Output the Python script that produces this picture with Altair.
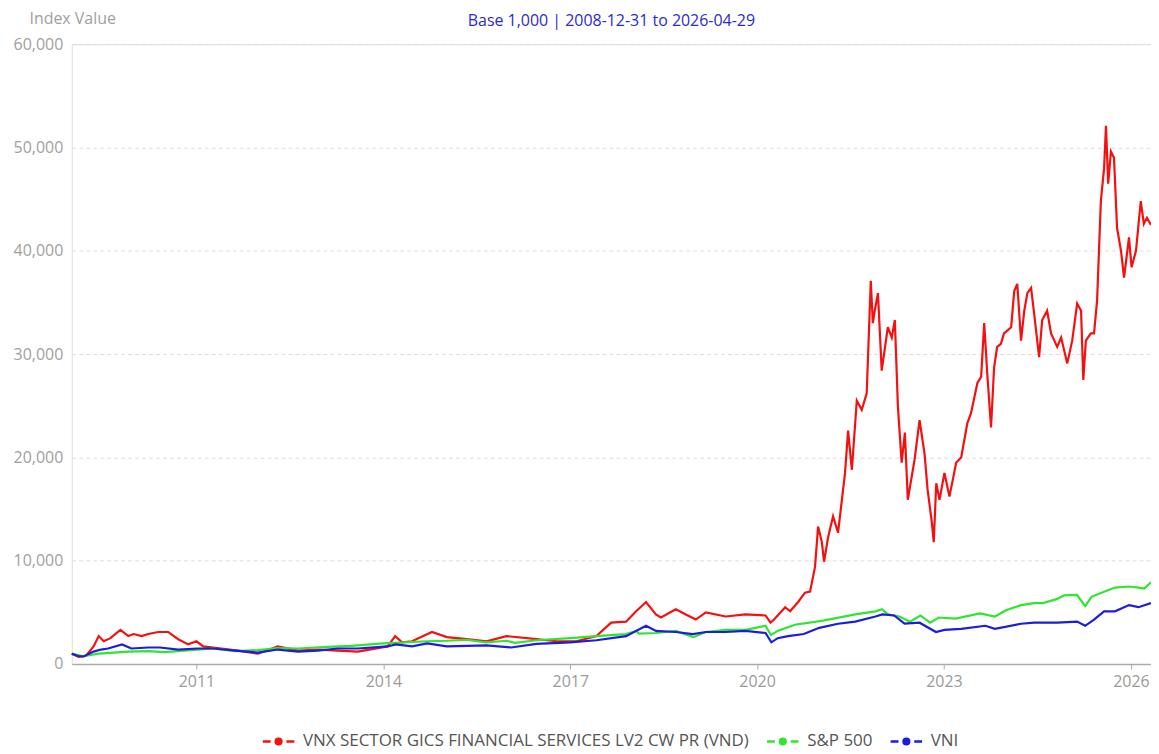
import altair as alt
import pandas as pd

# ---------------- data ----------------
series_names = ["VNX SECTOR GICS FINANCIAL SERVICES LV2 CW PR (VND)", "S&P 500", "VNI"]
series_colors = ["#f51010", "#2ee62e", "#1c1cdc"]

red_dates = [
    "2008-12-31", "2009-02-10", "2009-03-25", "2009-05-08", "2009-06-07", "2009-07-06", "2009-08-15", "2009-10-12", "2009-11-28", "2009-12-28",
    "2010-02-13", "2010-03-25", "2010-05-22", "2010-07-19", "2010-09-16", "2010-11-14", "2011-01-01", "2011-02-10", "2011-04-09", "2011-09-02",
    "2011-12-28", "2012-04-22", "2012-08-18", "2012-12-13", "2013-04-09", "2013-08-04", "2014-01-26", "2014-03-11", "2014-04-21", "2014-06-18",
    "2014-10-13", "2015-01-08", "2015-05-05", "2015-08-29", "2015-12-24", "2016-06-17", "2016-10-12", "2017-02-07", "2017-06-03", "2017-08-29",
    "2017-11-24", "2018-01-22", "2018-03-21", "2018-05-18", "2018-06-17", "2018-09-12", "2018-11-09", "2019-01-07", "2019-03-07", "2019-07-01",
    "2019-10-26", "2020-02-20", "2020-03-20", "2020-04-10", "2020-06-14", "2020-07-13", "2020-08-29", "2020-10-08", "2020-11-07", "2020-12-06",
    "2020-12-24", "2021-01-15", "2021-01-28", "2021-02-21", "2021-03-22", "2021-04-20", "2021-05-31", "2021-06-18", "2021-07-10", "2021-08-08",
    "2021-09-06", "2021-10-05", "2021-10-29", "2021-11-10", "2021-11-21", "2021-12-10", "2022-01-01", "2022-02-06", "2022-03-01", "2022-03-19",
    "2022-04-06", "2022-04-28", "2022-05-17", "2022-06-03", "2022-07-13", "2022-08-11", "2022-09-09", "2022-09-27", "2022-10-22", "2022-11-02",
    "2022-11-17", "2022-12-06", "2023-01-04", "2023-02-02", "2023-03-14", "2023-04-12", "2023-05-18", "2023-06-09", "2023-07-16", "2023-08-07",
    "2023-08-25", "2023-09-12", "2023-10-04", "2023-10-22", "2023-11-09", "2023-12-01", "2023-12-19", "2024-01-30", "2024-02-17", "2024-03-06",
    "2024-03-28", "2024-04-16", "2024-05-04", "2024-05-26", "2024-06-13", "2024-07-12", "2024-07-30", "2024-08-28", "2024-09-20", "2024-10-26",
    "2024-11-18", "2024-12-24", "2025-01-22", "2025-02-20", "2025-03-15", "2025-03-28", "2025-04-12", "2025-05-11", "2025-05-30", "2025-06-17",
    "2025-07-09", "2025-07-28", "2025-08-08", "2025-08-21", "2025-09-06", "2025-09-24", "2025-10-12", "2025-11-04", "2025-11-22", "2025-12-21",
    "2026-01-05", "2026-01-31", "2026-02-28", "2026-03-18", "2026-04-05", "2026-04-29",
]
red_values = [
    1000, 700, 800, 1700, 2700, 2200, 2500, 3300, 2700, 2900,
    2700, 2900, 3100, 3100, 2400, 1900, 2200, 1700, 1600, 1300,
    1000, 1700, 1300, 1400, 1300, 1200, 1700, 2700, 2100, 2200,
    3100, 2600, 2400, 2200, 2700, 2400, 2200, 2200, 2700, 4000,
    4100, 5100, 6000, 4800, 4500, 5300, 4800, 4300, 5000, 4600,
    4800, 4700, 4000, 4300, 5500, 5100, 6000, 6900, 7000, 9400,
    13300, 11800, 9900, 12300, 14300, 12700, 18500, 22600, 18800, 25500,
    24600, 26200, 37100, 33000, 34200, 35900, 28400, 32600, 31600, 33300,
    24900, 19500, 22400, 15900, 19800, 23600, 20400, 16900, 13700, 11800,
    17500, 15900, 18500, 16200, 19500, 20000, 23300, 24300, 27200, 27800,
    33000, 28100, 22900, 28700, 30700, 31000, 32000, 32600, 36100, 36800,
    31300, 34200, 35900, 36400, 33900, 29700, 33300, 34200, 32000, 30700,
    31600, 29100, 31300, 34900, 34200, 27500, 31300, 32000, 32000, 35200,
    44800, 48000, 52100, 46500, 49600, 49000, 42200, 40000, 37400, 41300,
    38400, 40000, 44800, 42600, 43200, 42500,
]

green_dates = [
    "2008-12-31", "2009-02-10", "2009-03-09", "2009-06-07", "2009-11-28", "2010-03-25", "2010-06-30", "2011-01-08", "2011-04-09", "2011-08-20",
    "2011-12-28", "2012-04-22", "2012-08-18", "2013-02-10", "2013-06-26", "2013-12-31", "2014-03-11", "2014-09-15", "2015-01-08", "2015-05-05",
    "2015-08-24", "2015-12-24", "2016-02-11", "2016-06-17", "2017-01-01", "2017-06-03", "2017-11-24", "2018-01-22", "2018-02-08", "2018-05-18",
    "2018-09-12", "2018-12-24", "2019-03-07", "2019-07-01", "2019-10-26", "2020-02-19", "2020-03-23", "2020-04-30", "2020-08-10", "2021-01-23",
    "2021-07-30", "2021-11-25", "2022-01-03", "2022-02-06", "2022-04-15", "2022-06-16", "2022-08-16", "2022-10-12", "2022-12-01", "2023-03-10",
    "2023-07-31", "2023-10-27", "2023-12-31", "2024-03-28", "2024-06-13", "2024-08-05", "2024-10-26", "2024-12-06", "2025-02-19", "2025-04-08",
    "2025-05-15", "2025-07-28", "2025-09-30", "2025-12-21", "2026-02-15", "2026-03-20", "2026-04-29",
]
green_values = [
    1000, 850, 750, 1000, 1200, 1250, 1150, 1400, 1500, 1250,
    1350, 1550, 1500, 1650, 1750, 2000, 2050, 2200, 2250, 2350,
    2100, 2250, 2050, 2300, 2500, 2700, 2900, 3200, 2950, 3000,
    3200, 2600, 3100, 3300, 3300, 3700, 2800, 3200, 3800, 4200,
    4800, 5100, 5300, 4800, 4600, 4100, 4700, 4000, 4500, 4400,
    4900, 4600, 5200, 5700, 5900, 5900, 6300, 6650, 6700, 5600,
    6500, 7000, 7400, 7500, 7400, 7300, 7900,
]

blue_dates = [
    "2008-12-31", "2009-02-10", "2009-03-10", "2009-05-08", "2009-06-20", "2009-08-01", "2009-10-22", "2009-12-15", "2010-03-25", "2010-06-01",
    "2010-09-16", "2011-01-08", "2011-04-09", "2011-08-15", "2011-12-28", "2012-04-22", "2012-08-18", "2012-12-13", "2013-04-09", "2013-08-04",
    "2014-01-26", "2014-03-15", "2014-06-18", "2014-09-15", "2015-01-08", "2015-05-05", "2015-08-29", "2016-01-20", "2016-06-17", "2017-01-01",
    "2017-06-03", "2017-11-24", "2018-03-21", "2018-05-18", "2018-09-12", "2018-12-20", "2019-03-07", "2019-07-01", "2019-10-26", "2020-02-20",
    "2020-03-25", "2020-05-01", "2020-07-01", "2020-10-01", "2020-12-31", "2021-04-20", "2021-07-30", "2021-11-25", "2022-01-05", "2022-03-15",
    "2022-05-15", "2022-08-11", "2022-11-15", "2023-01-04", "2023-04-12", "2023-09-01", "2023-10-27", "2024-03-28", "2024-06-13", "2024-10-26",
    "2025-02-20", "2025-04-08", "2025-05-30", "2025-07-28", "2025-09-30", "2025-12-21", "2026-02-15", "2026-04-29",
]
blue_values = [
    1000, 750, 730, 1200, 1400, 1500, 1900, 1500, 1600, 1600,
    1400, 1500, 1500, 1300, 1100, 1400, 1200, 1300, 1500, 1500,
    1700, 1900, 1700, 2000, 1700, 1750, 1800, 1600, 1950, 2100,
    2300, 2700, 3700, 3200, 3100, 2900, 3100, 3100, 3200, 3000,
    2100, 2500, 2700, 2900, 3500, 3900, 4100, 4600, 4800, 4700,
    3900, 4000, 3100, 3300, 3400, 3700, 3400, 3900, 4000, 4000,
    4100, 3700, 4300, 5100, 5100, 5700, 5500, 5900,
]

year_ticks = [2011, 2014, 2017, 2020, 2023, 2026]
y_ticks = [0, 10000, 20000, 30000, 40000, 50000, 60000]

# ---------------- table ----------------
frames = []
for name, d, v in zip(series_names, [red_dates, green_dates, blue_dates], [red_values, green_values, blue_values]):
    frames.append(pd.DataFrame({"date": d, "value": v, "series": name}))
df = pd.concat(frames, ignore_index=True)

FONT = "Open Sans"
legend_symbol = (
    "M-1,0H-0.5M0.5,0H1"
    "M0,-0.18A0.18,0.18,0,1,1,0,0.18A0.18,0.18,0,1,1,0,-0.18"
    "M0,-0.07A0.07,0.07,0,1,1,0,0.07A0.07,0.07,0,1,1,0,-0.07"
)

color = alt.Color(
    "series:N",
    scale=alt.Scale(domain=series_names, range=series_colors),
    legend=alt.Legend(
        title=None,
        orient="none",
        direction="horizontal",
        legendX=190,
        legendY=682,
        symbolType=legend_symbol,
        symbolSize=1000,
        symbolStrokeWidth=2.5,
        labelFont=FONT,
        labelFontSize=17,
        labelColor="#555555",
        labelOffset=7,
        columnPadding=12,
        labelLimit=700,
    ),
)

x_enc = alt.X(
    "date:T",
    scale=alt.Scale(
        type="utc",
        domain=[alt.DateTime(year=2008, month=12, date=31, utc=True),
                alt.DateTime(year=2026, month=4, date=29, utc=True)],
    ),
    axis=alt.Axis(
        title=None,
        values=[alt.DateTime(year=y, month=1, date=1, utc=True) for y in year_ticks],
        format="%Y",
        formatType="utc",
        grid=False,
        labelFont=FONT,
        labelFontSize=16,
        labelColor="#9a9a9a",
        labelPadding=5,
        tickColor="#aaaaaa",
        tickSize=5,
        domainColor="#aaaaaa",
        domainWidth=1.5,
    ),
)

y_enc = alt.Y(
    "value:Q",
    scale=alt.Scale(domain=[0, 60000], nice=False),
    axis=alt.Axis(
        title="Index Value",
        titleAngle=0,
        titleAlign="left",
        titleBaseline="middle",
        titleX=-43,
        titleY=-26,
        titleFont=FONT,
        titleFontSize=16,
        titleFontWeight="normal",
        titleColor="#a0a0a0",
        values=y_ticks,
        format=",.0f",
        labelFont=FONT,
        labelFontSize=16,
        labelColor="#a0a0a0",
        labelPadding=9,
        domain=False,
        ticks=False,
        grid=True,
        gridColor="#dddddd",
        gridDash=[4, 3],
        gridWidth=1,
    ),
)

layers = []
for name in series_names:
    layers.append(
        alt.Chart(df)
        .transform_filter(alt.datum.series == name)
        .mark_line(strokeWidth=2.2)
        .encode(x=x_enc, y=y_enc, color=color)
    )

chart = (
    alt.layer(*layers)
    .properties(
        width=1083,
        height=622,
        autosize=alt.AutoSizeParams(type="none"),
        padding={"left": 64, "top": 35, "right": 0, "bottom": 86},
        title=alt.TitleParams(
            text="Base 1,000 | 2008-12-31 to 2026-04-29",
            anchor="middle",
            frame="group",
            font=FONT,
            fontSize=16,
            fontWeight="normal",
            color="#2a2ad0",
            offset=-19,
        ),
    )
    .configure_view(stroke=None)
    .configure(background="white")
)

chart.save("out.html", embed_options={"renderer": "svg", "actions": False})
